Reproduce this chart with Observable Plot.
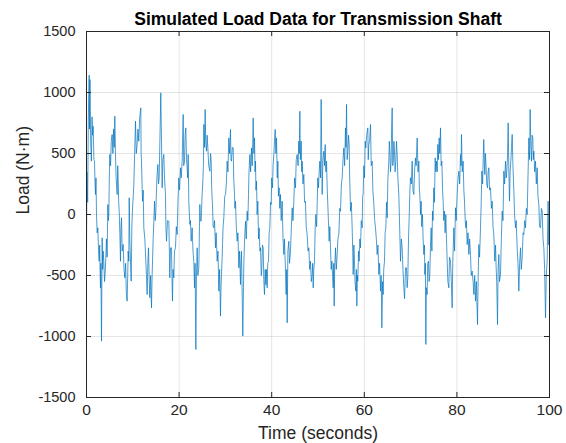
<!DOCTYPE html>
<html>
<head>
<meta charset="utf-8">
<script src="https://cdn.jsdelivr.net/npm/d3@7"></script>
<script src="https://cdn.jsdelivr.net/npm/@observablehq/plot@0.6"></script>
<style>
  html, body { margin: 0; padding: 0; background: #ffffff; }
  #chart { width: 566px; height: 443px; }
</style>
</head>
<body>
<div id="chart"></div>
<script>
// [time (s), load (N·m)], split into segments
const seg0to16 = [[0,-320],[0.1,350],[0.25,100],[0.4,800],[0.58,1142],[0.65,700],[0.75,1106],[0.9,600],[1.05,437],[1.2,800],[1.3,650],[1.44,724],[1.6,450],[1.73,437],[1.85,250],[1.94,164],[2.05,300],[2.16,0],[2.3,-150],[2.45,-109],[2.6,-300],[2.74,-383],[2.85,-250],[2.95,-500],[3.02,-601],[3.1,-400],[3.24,-1038],[3.3,-700],[3.38,-191],[3.5,-450],[3.6,-300],[3.74,-383],[3.9,-550],[4.1,-437],[4.3,-200],[4.45,-350],[4.61,82],[4.72,-50],[4.82,0],[4.95,350],[5.04,492],[5.2,400],[5.35,600],[5.54,656],[5.7,500],[5.85,700],[6.0,550],[6.12,806],[6.25,500],[6.4,300],[6.62,164],[6.75,400],[6.84,301],[6.95,100],[7.06,27],[7.2,-150],[7.34,-383],[7.45,-100],[7.56,-27],[7.7,-300],[7.92,-246],[8.1,-450],[8.28,-519],[8.45,-400],[8.6,-650],[8.78,-710],[8.9,-500],[9.0,-300],[9.14,-383],[9.22,137],[9.35,-200],[9.5,-383],[9.65,-546],[9.8,-100],[9.94,55],[10.1,150],[10.22,246],[10.4,500],[10.58,765],[10.75,500],[10.94,574],[11.1,700],[11.3,600],[11.5,800],[11.73,874],[11.8,500],[11.88,437],[12.0,250],[12.1,109],[12.25,200],[12.38,-109],[12.6,-200],[12.82,-383],[12.95,-500],[13.1,-656],[13.25,-400],[13.39,-273],[13.55,-550],[13.68,-683],[13.85,-500],[14.04,-765],[14.18,-492],[14.4,-200],[14.55,-50],[14.69,109],[14.85,-50],[14.98,27],[15.2,300],[15.41,410],[15.55,250],[15.7,301],[15.85,600],[16.05,997]];
const seg16to34 = [[16.2,600],[16.34,219],[16.5,450],[16.7,492],[16.85,300],[17.06,164],[17.15,-100],[17.28,-219],[17.5,-50],[17.78,-55],[17.9,-300],[17.99,-519],[18.15,-273],[18.36,-273],[18.45,-500],[18.57,-710],[18.7,-450],[18.86,-519],[19.0,-300],[19.22,-273],[19.4,-100],[19.58,-164],[19.75,100],[19.94,301],[20.1,200],[20.3,383],[20.45,300],[20.66,437],[20.75,600],[20.88,820],[21.0,400],[21.17,437],[21.3,650],[21.45,710],[21.6,450],[21.74,383],[21.85,300],[21.96,492],[22.1,100],[22.32,-82],[22.45,-50],[22.61,-219],[22.82,-109],[23.0,-300],[23.18,-383],[23.33,-601],[23.45,-400],[23.62,-1106],[23.75,-500],[23.9,-273],[24.05,-500],[24.26,-437],[24.4,-100],[24.48,82],[24.6,-50],[24.77,-55],[24.95,150],[25.13,273],[25.25,400],[25.34,738],[25.5,550],[25.63,861],[25.75,600],[25.92,519],[26.05,650],[26.21,546],[26.4,400],[26.64,355],[26.8,500],[26.93,437],[27.05,200],[27.21,82],[27.35,-100],[27.5,-109],[27.65,-50],[27.86,-273],[28.0,-150],[28.22,-383],[28.4,-300],[28.58,-628],[28.75,-450],[28.94,-833],[29.05,-600],[29.16,-492],[29.3,-350],[29.38,-246],[29.5,-100],[29.66,-27],[29.85,150],[30.02,164],[30.2,250],[30.38,437],[30.55,350],[30.74,628],[30.9,500],[31.1,697],[31.2,450],[31.32,437],[31.5,550],[31.68,546],[31.8,300],[31.97,164],[32.05,50],[32.18,109],[32.35,-100],[32.54,-219],[32.7,-150],[32.9,-437],[33.05,-300],[33.26,-574],[33.35,-400],[33.47,-301],[33.6,-600],[33.76,-997]];
const seg34to51 = [[33.9,-600],[33.98,-410],[34.15,-200],[34.34,-55],[34.5,-200],[34.7,27],[34.85,-50],[34.99,164],[35.1,350],[35.28,492],[35.45,350],[35.64,546],[35.8,400],[36.0,792],[36.15,500],[36.29,628],[36.4,350],[36.5,437],[36.6,200],[36.72,273],[36.85,0],[37.01,109],[37.15,-200],[37.29,-109],[37.45,-300],[37.58,-273],[37.75,-500],[37.87,-437],[38.0,-250],[38.16,-273],[38.3,-550],[38.44,-656],[38.6,-450],[38.73,-574],[38.85,-450],[39.02,-601],[39.15,-400],[39.31,-383],[39.45,-150],[39.6,-109],[39.75,100],[39.89,82],[40.0,300],[40.17,219],[40.3,400],[40.46,492],[40.6,600],[40.75,697],[40.9,500],[41.04,628],[41.2,300],[41.33,437],[41.45,150],[41.61,219],[41.75,50],[41.9,164],[42.05,-50],[42.26,109],[42.45,-200],[42.62,-328],[42.75,-200],[42.91,-383],[43.0,-500],[43.12,-656],[43.25,-450],[43.34,-888],[43.5,-300],[43.7,-219],[43.85,-400],[44.06,-301],[44.25,-100],[44.42,55],[44.6,-50],[44.78,109],[44.95,300],[45.14,219],[45.3,450],[45.5,492],[45.7,400],[45.86,601],[45.95,500],[46.08,847],[46.2,450],[46.37,601],[46.5,350],[46.58,437],[46.75,250],[46.94,328],[47.1,100],[47.3,109],[47.45,-100],[47.66,-164],[47.85,-300],[48.02,-273],[48.2,-450],[48.38,-383],[48.55,-550],[48.74,-492],[48.85,-400],[48.96,-601],[49.1,-450],[49.24,-383],[49.4,-100],[49.53,0],[49.7,-100],[49.82,82],[49.95,300],[50.11,219],[50.25,350],[50.4,437],[50.55,300],[50.68,943]];
const seg51to69 = [[50.8,500],[50.9,164],[51.05,450],[51.26,519],[51.4,400],[51.55,574],[51.7,350],[51.84,437],[52.0,200],[52.12,82],[52.25,-50],[52.41,-219],[52.55,-100],[52.7,-273],[52.85,-450],[52.99,-383],[53.15,-500],[53.28,-601],[53.4,-400],[53.49,-751],[53.6,-450],[53.78,-273],[53.95,-450],[54.14,-328],[54.3,-200],[54.5,-164],[54.7,50],[54.86,27],[55.05,250],[55.22,301],[55.4,450],[55.58,546],[55.75,400],[55.94,710],[56.05,550],[56.16,902],[56.3,450],[56.44,519],[56.6,650],[56.73,574],[56.85,300],[57.02,27],[57.2,100],[57.38,-109],[57.5,-300],[57.6,-492],[57.75,-250],[57.88,-383],[58.0,-550],[58.17,-628],[58.3,-450],[58.39,-751],[58.5,-500],[58.6,-546],[58.75,-300],[58.89,-383],[59.05,-200],[59.18,-273],[59.35,-50],[59.54,-109],[59.65,150],[59.75,164],[59.9,400],[60.04,301],[60.2,600],[60.33,546],[60.5,650],[60.76,710],[60.85,450],[60.98,574],[61.15,600],[61.34,738],[61.5,400],[61.7,437],[61.85,200],[62.06,82],[62.25,-50],[62.42,-109],[62.6,-200],[62.78,-328],[62.95,-250],[63.14,-492],[63.3,-400],[63.5,-628],[63.65,-500],[63.79,-929],[63.95,-550],[64.07,-656],[64.2,-450],[64.36,-383],[64.5,-150],[64.65,-109],[64.8,100],[64.94,-27],[65.1,300],[65.3,437],[65.4,600],[65.52,519],[65.65,350],[65.8,437],[65.9,700],[66.02,874],[66.15,400],[66.24,437],[66.4,600],[66.52,519],[66.65,350],[66.81,437],[66.95,600],[67.1,492],[67.25,300],[67.46,164],[67.6,-50],[67.82,-383],[68.0,-200],[68.18,-273],[68.35,-450],[68.54,-600],[68.7,-690],[68.9,-437]];
const seg69to86 = [[69.11,-437],[69.25,-600],[69.4,-519],[69.55,-200],[69.69,-27],[69.85,200],[69.98,301],[70.15,250],[70.34,437],[70.5,200],[70.7,164],[70.85,350],[71.06,464],[71.2,400],[71.42,628],[71.6,350],[71.78,437],[71.9,200],[71.99,164],[72.15,0],[72.28,109],[72.4,-100],[72.57,0],[72.7,-200],[72.86,-328],[73.0,-250],[73.07,-492],[73.2,-400],[73.29,-1065],[73.4,-600],[73.57,-656],[73.7,-400],[73.86,-383],[74.0,-550],[74.15,-492],[74.3,-250],[74.44,-109],[74.6,-300],[74.73,27],[74.85,-50],[75.02,219],[75.15,100],[75.31,464],[75.45,350],[75.59,437],[75.75,350],[75.88,574],[76.0,450],[76.17,628],[76.3,500],[76.46,710],[76.6,400],[76.75,437],[76.9,200],[77.03,109],[77.15,-50],[77.32,27],[77.45,-150],[77.61,0],[77.75,-200],[77.9,-383],[78.05,-550],[78.26,-601],[78.4,-350],[78.62,-383],[78.8,-550],[78.98,-765],[79.1,-400],[79.34,-109],[79.5,-300],[79.7,55],[79.85,-50],[80.06,164],[80.25,300],[80.42,355],[80.6,250],[80.78,492],[80.9,400],[80.99,656],[81.15,350],[81.35,437],[81.5,200],[81.64,109],[81.8,-50],[81.93,-109],[82.05,-50],[82.22,-246],[82.4,-150],[82.58,-328],[82.75,-200],[82.94,-328],[83.1,-500],[83.3,-464],[83.5,-550],[83.66,-656],[83.85,-500],[84.02,-710],[84.2,-550],[84.45,-902],[84.6,-500],[84.74,-246],[84.9,-350],[85.1,-109],[85.25,100],[85.39,355],[85.55,250],[85.67,437],[85.8,615]];
const seg86to100 = [[85.95,400],[86.03,328],[86.15,500],[86.32,383],[86.45,250],[86.61,219],[86.75,350],[86.9,383],[87.05,200],[87.26,219],[87.45,50],[87.62,109],[87.8,-100],[87.98,-164],[88.1,-300],[88.19,-383],[88.35,-250],[88.48,-437],[88.6,-550],[88.77,-902],[88.9,-450],[89.06,-328],[89.2,-550],[89.42,-492],[89.6,-200],[89.78,27],[89.95,-50],[90.14,355],[90.3,250],[90.5,437],[90.65,300],[90.79,355],[90.95,500],[91.07,751],[91.2,400],[91.36,109],[91.5,350],[91.65,437],[91.8,550],[91.94,656],[92.1,400],[92.3,191],[92.45,0],[92.66,-109],[92.8,-50],[93.02,-273],[93.2,-400],[93.38,-628],[93.55,-400],[93.74,-273],[93.9,-450],[94.1,-355],[94.3,-150],[94.46,-164],[94.65,-50],[94.82,-109],[95.0,50],[95.18,0],[95.35,300],[95.54,628],[95.7,450],[95.82,861],[95.95,600],[96.11,437],[96.25,650],[96.4,628],[96.5,450],[96.62,519],[96.8,350],[96.98,437],[97.15,250],[97.34,383],[97.5,150],[97.7,82],[97.85,-100],[98.06,-109],[98.25,50],[98.42,27],[98.6,-200],[98.78,-273],[98.95,-450],[99.14,-847],[99.3,-500],[99.5,-383],[99.6,-100],[99.71,109],[99.85,-250],[100,0]];

const xTicks = [0, 20, 40, 60, 80, 100];
const yTicks = [-1500, -1000, -500, 0, 500, 1000, 1500];
const titleText = "Simulated Load Data for Transmission Shaft";
const xLabel = "Time (seconds)";
const yLabel = "Load (N·m)";

const data = [seg0to16, seg16to34, seg34to51, seg51to69, seg69to86, seg86to100]
  .flat()
  .map(([t, v]) => ({t, v}));

const ink = "#262626";
const font = "'Liberation Sans', Arial, Helvetica, sans-serif";

const chart = Plot.plot({
  width: 566,
  height: 443,
  marginLeft: 86,
  marginRight: 17,
  marginTop: 31,
  marginBottom: 46,
  style: {fontFamily: font, fontSize: "14px", color: ink, background: "#ffffff", overflow: "visible"},
  x: {domain: [0, 100], ticks: xTicks},
  y: {domain: [-1500, 1500], ticks: yTicks},
  marks: [
    Plot.gridX(xTicks, {stroke: ink, strokeOpacity: 0.12, strokeWidth: 1}),
    Plot.gridY(yTicks, {stroke: ink, strokeOpacity: 0.12, strokeWidth: 1}),
    Plot.line(data, {x: "t", y: "v", stroke: "#0072BD", strokeWidth: 0.7}),
    Plot.frame({stroke: ink, strokeWidth: 1}),
    // inward tick marks on all four sides
    Plot.tickX(xTicks, {x: d => d, stroke: ink, insetTop: 361}),
    Plot.tickX(xTicks, {x: d => d, stroke: ink, insetBottom: 361}),
    Plot.tickY(yTicks, {y: d => d, stroke: ink, insetRight: 458}),
    Plot.tickY(yTicks, {y: d => d, stroke: ink, insetLeft: 458}),
    Plot.axisX(xTicks, {tickSize: 0, tickPadding: 6, fontSize: 15.5, label: null, fill: ink}),
    Plot.axisY(yTicks, {tickSize: 0, tickPadding: 11, fontSize: 14.5, label: null, fill: ink, tickFormat: d => String(d)}),
    Plot.text([titleText], {frameAnchor: "top", lineAnchor: "middle", dy: -12.5, text: d => d, fontSize: 17.5, fontWeight: "bold", fill: "#000000"}),
    Plot.text([xLabel], {frameAnchor: "bottom", lineAnchor: "middle", dy: 36, text: d => d, fontSize: 17.5, fill: ink}),
    Plot.text([yLabel], {frameAnchor: "left", lineAnchor: "middle", dx: -63, rotate: -90, text: d => d, fontSize: 17.5, fill: ink})
  ]
});

document.getElementById("chart").appendChild(chart);
</script>
</body>
</html>
